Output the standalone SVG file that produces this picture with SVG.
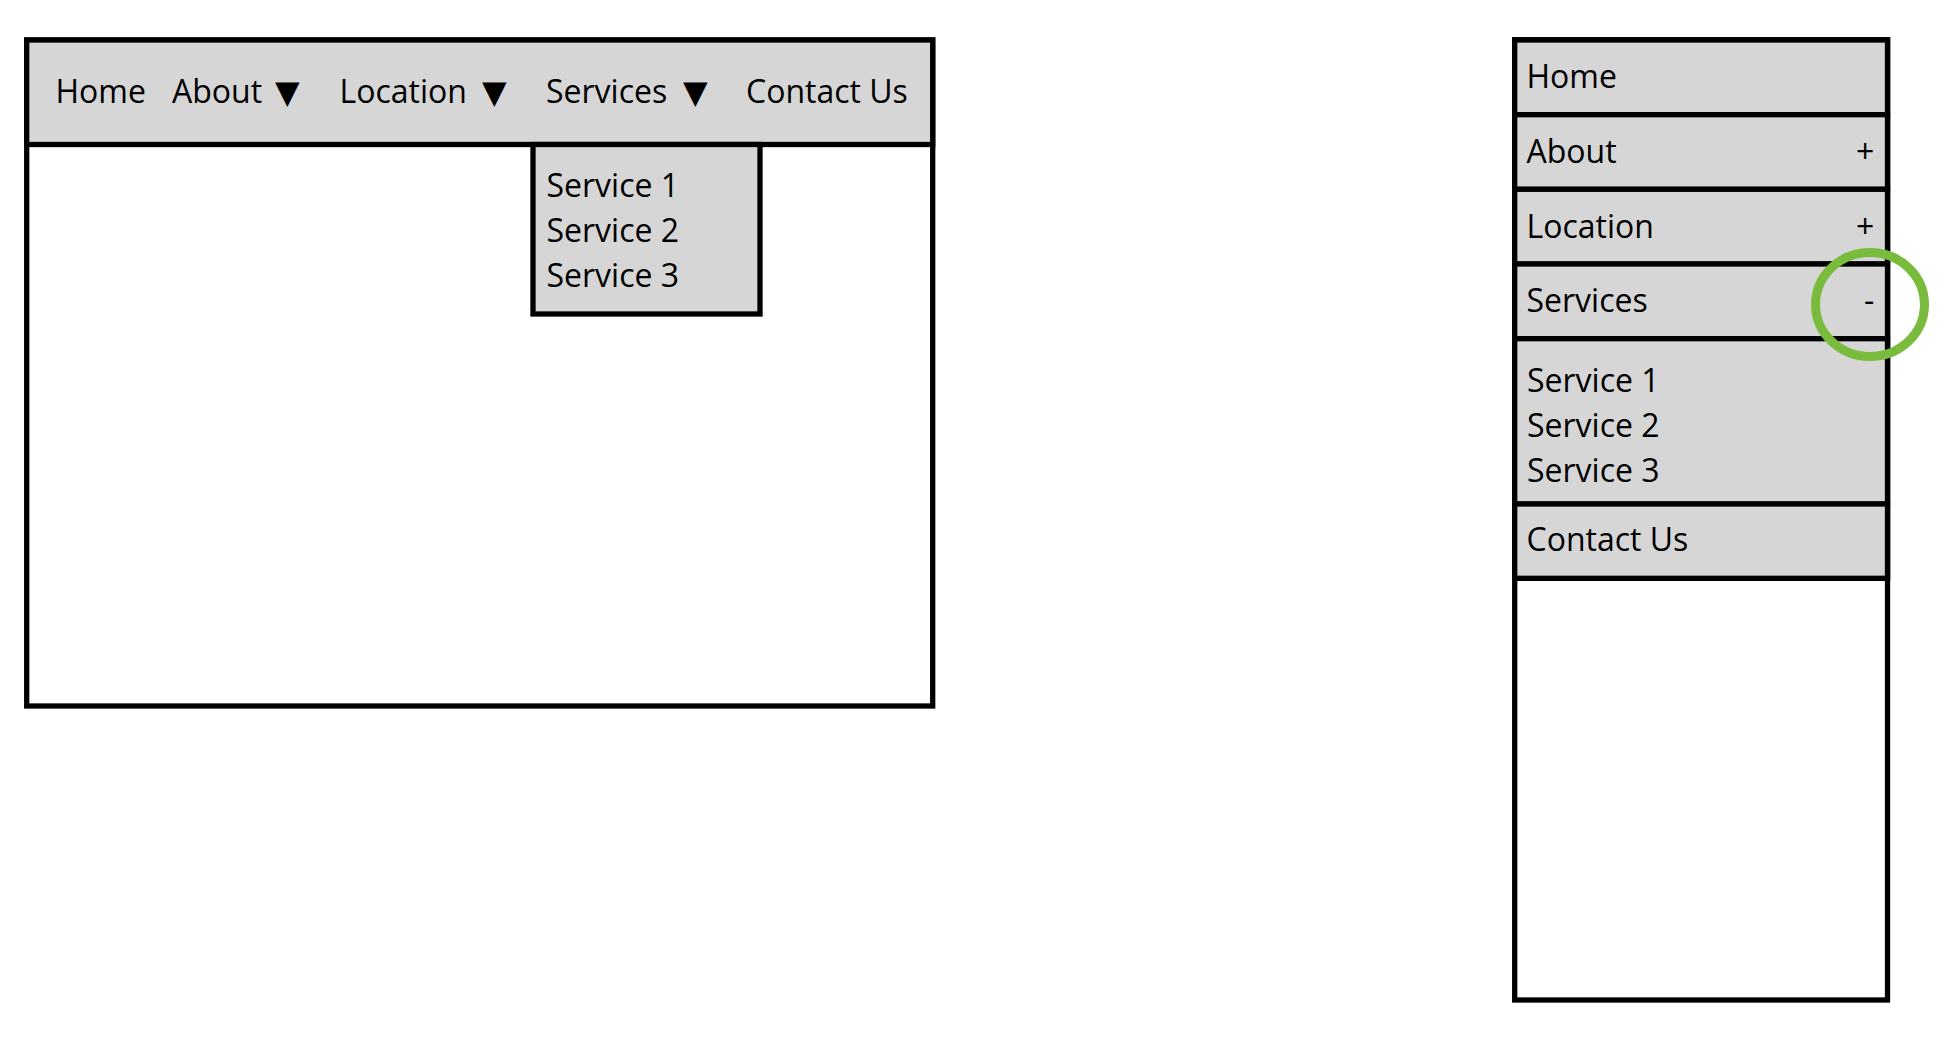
<svg xmlns="http://www.w3.org/2000/svg" width="1952" height="1052" viewBox="0 0 1952 1052">
<style>
  .frame { fill: #ffffff; stroke: #000000; stroke-width: 5.3; }
  .bar { fill: #d6d6d6; stroke: #000000; stroke-width: 5.3; }
  .line { stroke: #000000; stroke-width: 5.3; fill: none; }
  .t { font-family: "Open Sans", "DejaVu Sans", sans-serif; font-size: 32px; fill: #000000; }
  .tri { font-family: "DejaVu Sans", sans-serif; font-size: 32px; fill: #000000; }
  .brush { fill: none; stroke: #79bc3d; }
</style>
<rect width="1952" height="1052" fill="#ffffff"/>

<g id="desktop-nav">
  <rect id="desktop-frame" class="frame" x="26.7" y="40" width="906" height="666"/>
  <rect id="desktop-header" class="bar" x="26.7" y="40" width="906" height="104.5"/>
  <g id="nav-home"><text class="t" x="55.5" y="103">Home</text></g>
  <g id="nav-about"><text class="t" x="172" y="103">About</text><text class="tri" x="275" y="103">▼</text></g>
  <g id="nav-location"><text class="t" x="339.5" y="103">Location</text><text class="tri" x="482" y="103">▼</text></g>
  <g id="nav-services"><text class="t" x="546" y="103">Services</text><text class="tri" x="683" y="103">▼</text></g>
  <g id="nav-contact"><text class="t" x="746" y="103">Contact Us</text></g>
  <g id="services-dropdown">
    <rect class="bar" x="533" y="144.5" width="227" height="169.5"/>
    <text class="t" x="546.5" y="197.3">Service 1</text>
    <text class="t" x="546.5" y="242">Service 2</text>
    <text class="t" x="546.5" y="286.7">Service 3</text>
  </g>
</g>

<g id="mobile-nav">
  <rect id="mobile-frame" class="frame" x="1514.7" y="40" width="372.8" height="960"/>
  <rect class="bar" x="1514.7" y="40" width="372.8" height="538.3" stroke="none"/>
  <g id="m-home">
    <rect class="bar" x="1514.7" y="40" width="372.8" height="74.7"/>
    <text class="t" x="1526.5" y="87.7">Home</text>
  </g>
  <g id="m-about">
    <rect class="bar" x="1514.7" y="114.7" width="372.8" height="74.6"/>
    <text class="t" x="1526.5" y="162.7">About</text>
    <text class="t" x="1856" y="162.7">+</text>
  </g>
  <g id="m-location">
    <rect class="bar" x="1514.7" y="189.3" width="372.8" height="74.7"/>
    <text class="t" x="1526.5" y="237.7">Location</text>
    <text class="t" x="1856" y="237.7">+</text>
  </g>
  <g id="m-services">
    <rect class="bar" x="1514.7" y="264" width="372.8" height="74.7"/>
    <text class="t" x="1526.5" y="311.7">Services</text>
    <text class="t" x="1864" y="311.7">-</text>
  </g>
  <g id="m-services-list">
    <rect class="bar" x="1514.7" y="338.7" width="372.8" height="165.3"/>
    <text class="t" x="1527" y="391.7">Service 1</text>
    <text class="t" x="1527" y="437">Service 2</text>
    <text class="t" x="1527" y="482.3">Service 3</text>
  </g>
  <g id="m-contact">
    <rect class="bar" x="1514.7" y="504" width="372.8" height="74.3"/>
    <text class="t" x="1526.5" y="551">Contact Us</text>
  </g>
</g>

<g id="highlight-circle">
  <ellipse class="brush" cx="1870" cy="304.5" rx="54.5" ry="52" stroke-width="9"/>
  <ellipse class="brush" cx="1871" cy="303.5" rx="56" ry="53" stroke-width="2.5" opacity="0.6"/>
  <ellipse class="brush" cx="1869" cy="305.5" rx="52" ry="50" stroke-width="2" opacity="0.5"/>
</g>
</svg>
